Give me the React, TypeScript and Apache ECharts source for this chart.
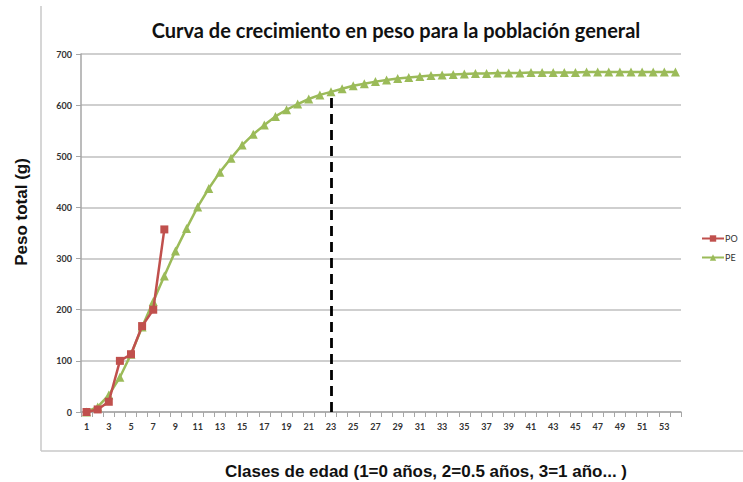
import React, { useEffect, useRef } from "react";
import * as echarts from "echarts";

const categories: string[] = Array.from({ length: 54 }, (_, i) => String(i + 1));

const poValues: number[] = [0, 5, 20, 100, 113, 168, 200, 357];

const peValues: number[] = [
  0, 10, 33, 68, 113, 166, 216, 266, 315, 359,
  401, 437, 469, 496, 522, 543, 561, 578, 591, 602,
  612, 620, 626, 632, 638, 642, 646, 649, 652, 654,
  656, 658, 659, 660, 661, 662, 662, 663, 663, 663,
  664, 664, 664, 664, 664, 665, 665, 665, 665, 665,
  665, 665, 665, 665,
];

const markerCategory = "23";
const markerTop = 618;

const TITLE = "Curva de crecimiento en peso para la población general";
const X_NAME = "Clases de edad (1=0 años, 2=0.5 años, 3=1 año... )";
const Y_NAME = "Peso total (g)";

export default function App() {
  const ref = useRef<HTMLDivElement>(null);
  useEffect(() => {
    if (!ref.current) return;
    const chart = echarts.init(ref.current, undefined, { renderer: "svg" });
    const font = "Lato, 'Open Sans', sans-serif";
    const arial = "'Liberation Sans', Arial, sans-serif";
    chart.setOption({
      animation: false,
      backgroundColor: "#ffffff",
      textStyle: { fontFamily: font },
      title: {
        text: TITLE,
        left: 391,
        top: 15,
        textAlign: "center",
        textStyle: { fontSize: 20, fontWeight: "bold", color: "#111", fontFamily: font },
      },
      legend: {
        orient: "vertical",
        left: 696,
        top: 229,
        itemWidth: 22,
        itemHeight: 8,
        itemGap: 10,
        textStyle: { fontSize: 9, color: "#333", padding: [0, 0, 0, -4] },
        data: ["PO", "PE"],
      },
      graphic: [
        { type: "line", shape: { x1: 41, y1: 6, x2: 41, y2: 451 }, style: { stroke: "#c8c8c8", lineWidth: 1.5 } },
        { type: "line", shape: { x1: 41, y1: 451, x2: 743, y2: 451 }, style: { stroke: "#c8c8c8", lineWidth: 1.5 } },
        {
          type: "text",
          x: 21,
          y: 212,
          rotation: Math.PI / 2,
          style: {
            text: Y_NAME,
            fontSize: 17,
            fontWeight: "bold",
            fontFamily: arial,
            fill: "#111",
            textAlign: "center",
            textVerticalAlign: "middle",
          },
        },
        {
          type: "text",
          x: 426,
          y: 471,
          style: {
            text: X_NAME,
            fontSize: 17,
            fontWeight: "bold",
            fontFamily: arial,
            fill: "#111",
            textAlign: "center",
            textVerticalAlign: "middle",
          },
        },
      ],
      grid: { left: 81, right: 62, top: 54, bottom: 70, containLabel: false },
      xAxis: {
        type: "category",
        data: categories,
        boundaryGap: true,
        axisLine: { lineStyle: { color: "#a6a6a6", width: 1.5 } },
        axisTick: { show: true, interval: 0, length: 5, lineStyle: { color: "#a6a6a6" } },
        axisLabel: { interval: 1, fontSize: 9, color: "#333", margin: 10, fontWeight: "bold" },
        splitLine: { show: false },
      },
      yAxis: {
        type: "value",
        min: 0,
        max: 700,
        interval: 100,
        axisLine: { show: true, lineStyle: { color: "#a6a6a6", width: 1.5 } },
        axisTick: { show: true, length: 5, inside: false, lineStyle: { color: "#a6a6a6" } },
        axisLabel: { fontSize: 9, color: "#333", margin: 9, fontWeight: "bold" },
        splitLine: { show: true, lineStyle: { color: "#bfbfbf", width: 1.5 } },
      },
      series: [
        {
          name: "PE",
          type: "line",
          data: peValues,
          z: 2,
          showSymbol: true,
          showAllSymbol: true,
          symbol: "triangle",
          symbolSize: 9,
          itemStyle: { color: "#9BBB59" },
          lineStyle: { color: "#9BBB59", width: 2.5 },
          markLine: {
            silent: true,
            symbol: "none",
            label: { show: false },
            lineStyle: { color: "#000", width: 2.8, type: [10, 6] },
            data: [[{ coord: [markerCategory, 0] }, { coord: [markerCategory, markerTop] }]],
          },
        },
        {
          name: "PO",
          type: "line",
          data: poValues,
          z: 3,
          showSymbol: true,
          showAllSymbol: true,
          symbol: "rect",
          symbolSize: 8,
          itemStyle: { color: "#C0504D" },
          lineStyle: { color: "#C0504D", width: 2.5 },
        },
      ],
    });
    return () => chart.dispose();
  }, []);
  return (
    <div
      ref={ref}
      style={{ position: "fixed", left: 0, top: 0, width: 743, height: 482 }}
    />
  );
}
